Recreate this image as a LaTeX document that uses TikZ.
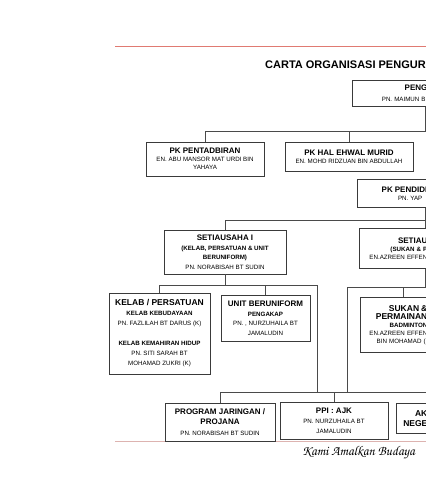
\documentclass[tikz,border=0pt]{standalone}
\usepackage{fontspec}
\setmainfont{Liberation Sans}
\newfontfamily\mottofont[Extension=.otf]{texgyrechorus-mediumitalic}
\usepackage{xcolor}
\usepackage{tikz}
\usetikzlibrary{positioning,calc}

\definecolor{rulered}{HTML}{E07A72}
\definecolor{rulepink}{HTML}{DDB3B0}
\definecolor{boxline}{HTML}{3A3A3A}
\definecolor{linkline}{HTML}{4A4A4A}

\newcommand\titlefont{\fontsize{11}{13}\selectfont\bfseries}
\newcommand\headfont{\fontsize{8}{9}\selectfont\bfseries}
\newcommand\bighead{\fontsize{8.5}{10}\selectfont\bfseries}
\newcommand\subhead{\fontsize{6.2}{9}\selectfont\bfseries}
\newcommand\namefont{\fontsize{6.2}{9.5}\selectfont}

\begin{document}
\begin{tikzpicture}[
    x=1pt, y=-1pt,
    unit/.style={rectangle, draw=boxline, line width=0.7pt, fill=white, align=center, inner sep=1pt, font=\namefont},
    cutunit/.style={unit, anchor=north west, align=right, inner xsep=3pt},
    link/.style={draw=linkline, line width=0.6pt}
]
\useasboundingbox (0,0) rectangle (426,480);
\clip (0,0) rectangle (426,480);

% Page rules and heading
\draw[rulered, line width=1pt] (115,46) -- (430,46);
\draw[rulepink, line width=1pt] (115,441) -- (430,441);
\node[anchor=west, font=\titlefont, inner sep=0pt] (title) at (265,65) {CARTA ORGANISASI PENGUR};
\node[anchor=west, font=\mottofont\fontsize{13.5}{15}\selectfont, inner sep=0pt] (motto) at (302,453) {Kami Amalkan Budaya};

% Top level
\node[cutunit, text width=72, minimum height=26] (peng) at (352,80) {{\headfont PENG}\\[1.5pt]PN. MAIMUN BI};
\node[unit, minimum width=118, minimum height=34, font=\fontsize{6.2}{8}\selectfont] (pentadbiran) at (205,159) {{\headfont PK PENTADBIRAN}\\EN. ABU MANSOR MAT URDI BIN\\YAHAYA};
\node[unit, minimum width=128, minimum height=29, font=\fontsize{6.2}{8}\selectfont] (hal) at (349,156.5) {{\headfont PK HAL EHWAL MURID}\\EN. MOHD RIDZUAN BIN ABDULLAH};
\node[cutunit, text width=67, minimum height=28, font=\fontsize{6.2}{8}\selectfont] (pendidi) at (357,179) {{\headfont PK PENDIDI}\\PN. YAP\rule{5pt}{0pt}};

% Secretaries
\node[unit, minimum width=122, minimum height=44] (setia1) at (225,252) {{\headfont SETIAUSAHA I}\\{\subhead (KELAB, PERSATUAN \& UNIT}\\{\subhead BERUNIFORM)}\\PN. NORABISAH BT SUDIN};
\node[cutunit, text width=65, minimum height=40, font=\fontsize{6.2}{8}\selectfont] (setia2) at (359,228) {{\headfont SETIAU}\\{\subhead (SUKAN \& P}\\EN.AZREEN EFFEN};

% Units
\node[unit, minimum width=101, minimum height=81, font=\fontsize{6.2}{10}\selectfont] (kelab) at (159.5,333.5) {{\bighead KELAB / PERSATUAN}\\{\subhead KELAB KEBUDAYAAN}\\PN. FAZLILAH BT DARUS (K)\\[10pt]{\subhead KELAB KEMAHIRAN HIDUP}\\PN. SITI SARAH BT\\MOHAMAD ZUKRI (K)};
\node[unit, minimum width=89, minimum height=46] (uniform) at (265.5,318) {{\headfont UNIT BERUNIFORM}\\{\subhead PENGAKAP}\\PN. , NURZUHAILA BT\\JAMALUDIN};
\node[cutunit, text width=64, minimum height=55, font=\fontsize{6.2}{8}\selectfont] (sukan) at (360,297) {{\bighead SUKAN \&}\\{\bighead PERMAINAN}\\{\subhead BADMINTON}\\EN.AZREEN EFFEN\\BIN MOHAMAD (I};

% Bottom row
\node[unit, minimum width=110, minimum height=38, font=\fontsize{6.2}{10.5}\selectfont] (projana) at (220,422) {{\headfont PROGRAM JARINGAN /}\\{\headfont PROJANA}\\PN. NORABISAH BT SUDIN};
\node[unit, minimum width=108, minimum height=37, font=\fontsize{6.2}{10}\selectfont] (ppi) at (334,420.5) {{\headfont PPI : AJK}\\PN. NURZUHAILA BT\\JAMALUDIN};
\node[cutunit, text width=28, minimum height=30, font=\fontsize{6.2}{10}\selectfont] (ak) at (396,403) {{\bighead AK}\\{\bighead NEGE}};

% Junctions
\coordinate (edge) at (425.5,0);
\coordinate (busA) at (205,131.5);
\coordinate (busB) at (225,220);
\coordinate (busC) at (159.5,285);
\coordinate (busD) at (347,287);
\coordinate (busE) at (220,392);
\coordinate (dropL) at (317,392);
\coordinate (dropR) at (347,392);
\coordinate (sukdrop) at (403,0);

% Connections
\draw[link] (peng.south -| edge) |- (busA) -- (pentadbiran.north);
\draw[link] (hal.north) -- (hal.north |- busA);
\draw[link] (pendidi.south -| edge) |- (busB) -- (setia1.north);
\draw[link] (setia2.north -| edge) -- (edge |- busB);

\draw[link] (setia1.south) |- (busC) -- (kelab.north);
\draw[link] (busC) -| (dropL);
\draw[link] (uniform.north) -- (uniform.north |- busC);

\draw[link] (setia2.south -| edge) |- (busD) -- (dropR);
\draw[link] (sukan.north -| sukdrop) -- (sukdrop |- busD);

\draw[link] (projana.north) |- (edge |- busE);
\draw[link] (ppi.north) -- (ppi.north |- busE);

\end{tikzpicture}
\end{document}
